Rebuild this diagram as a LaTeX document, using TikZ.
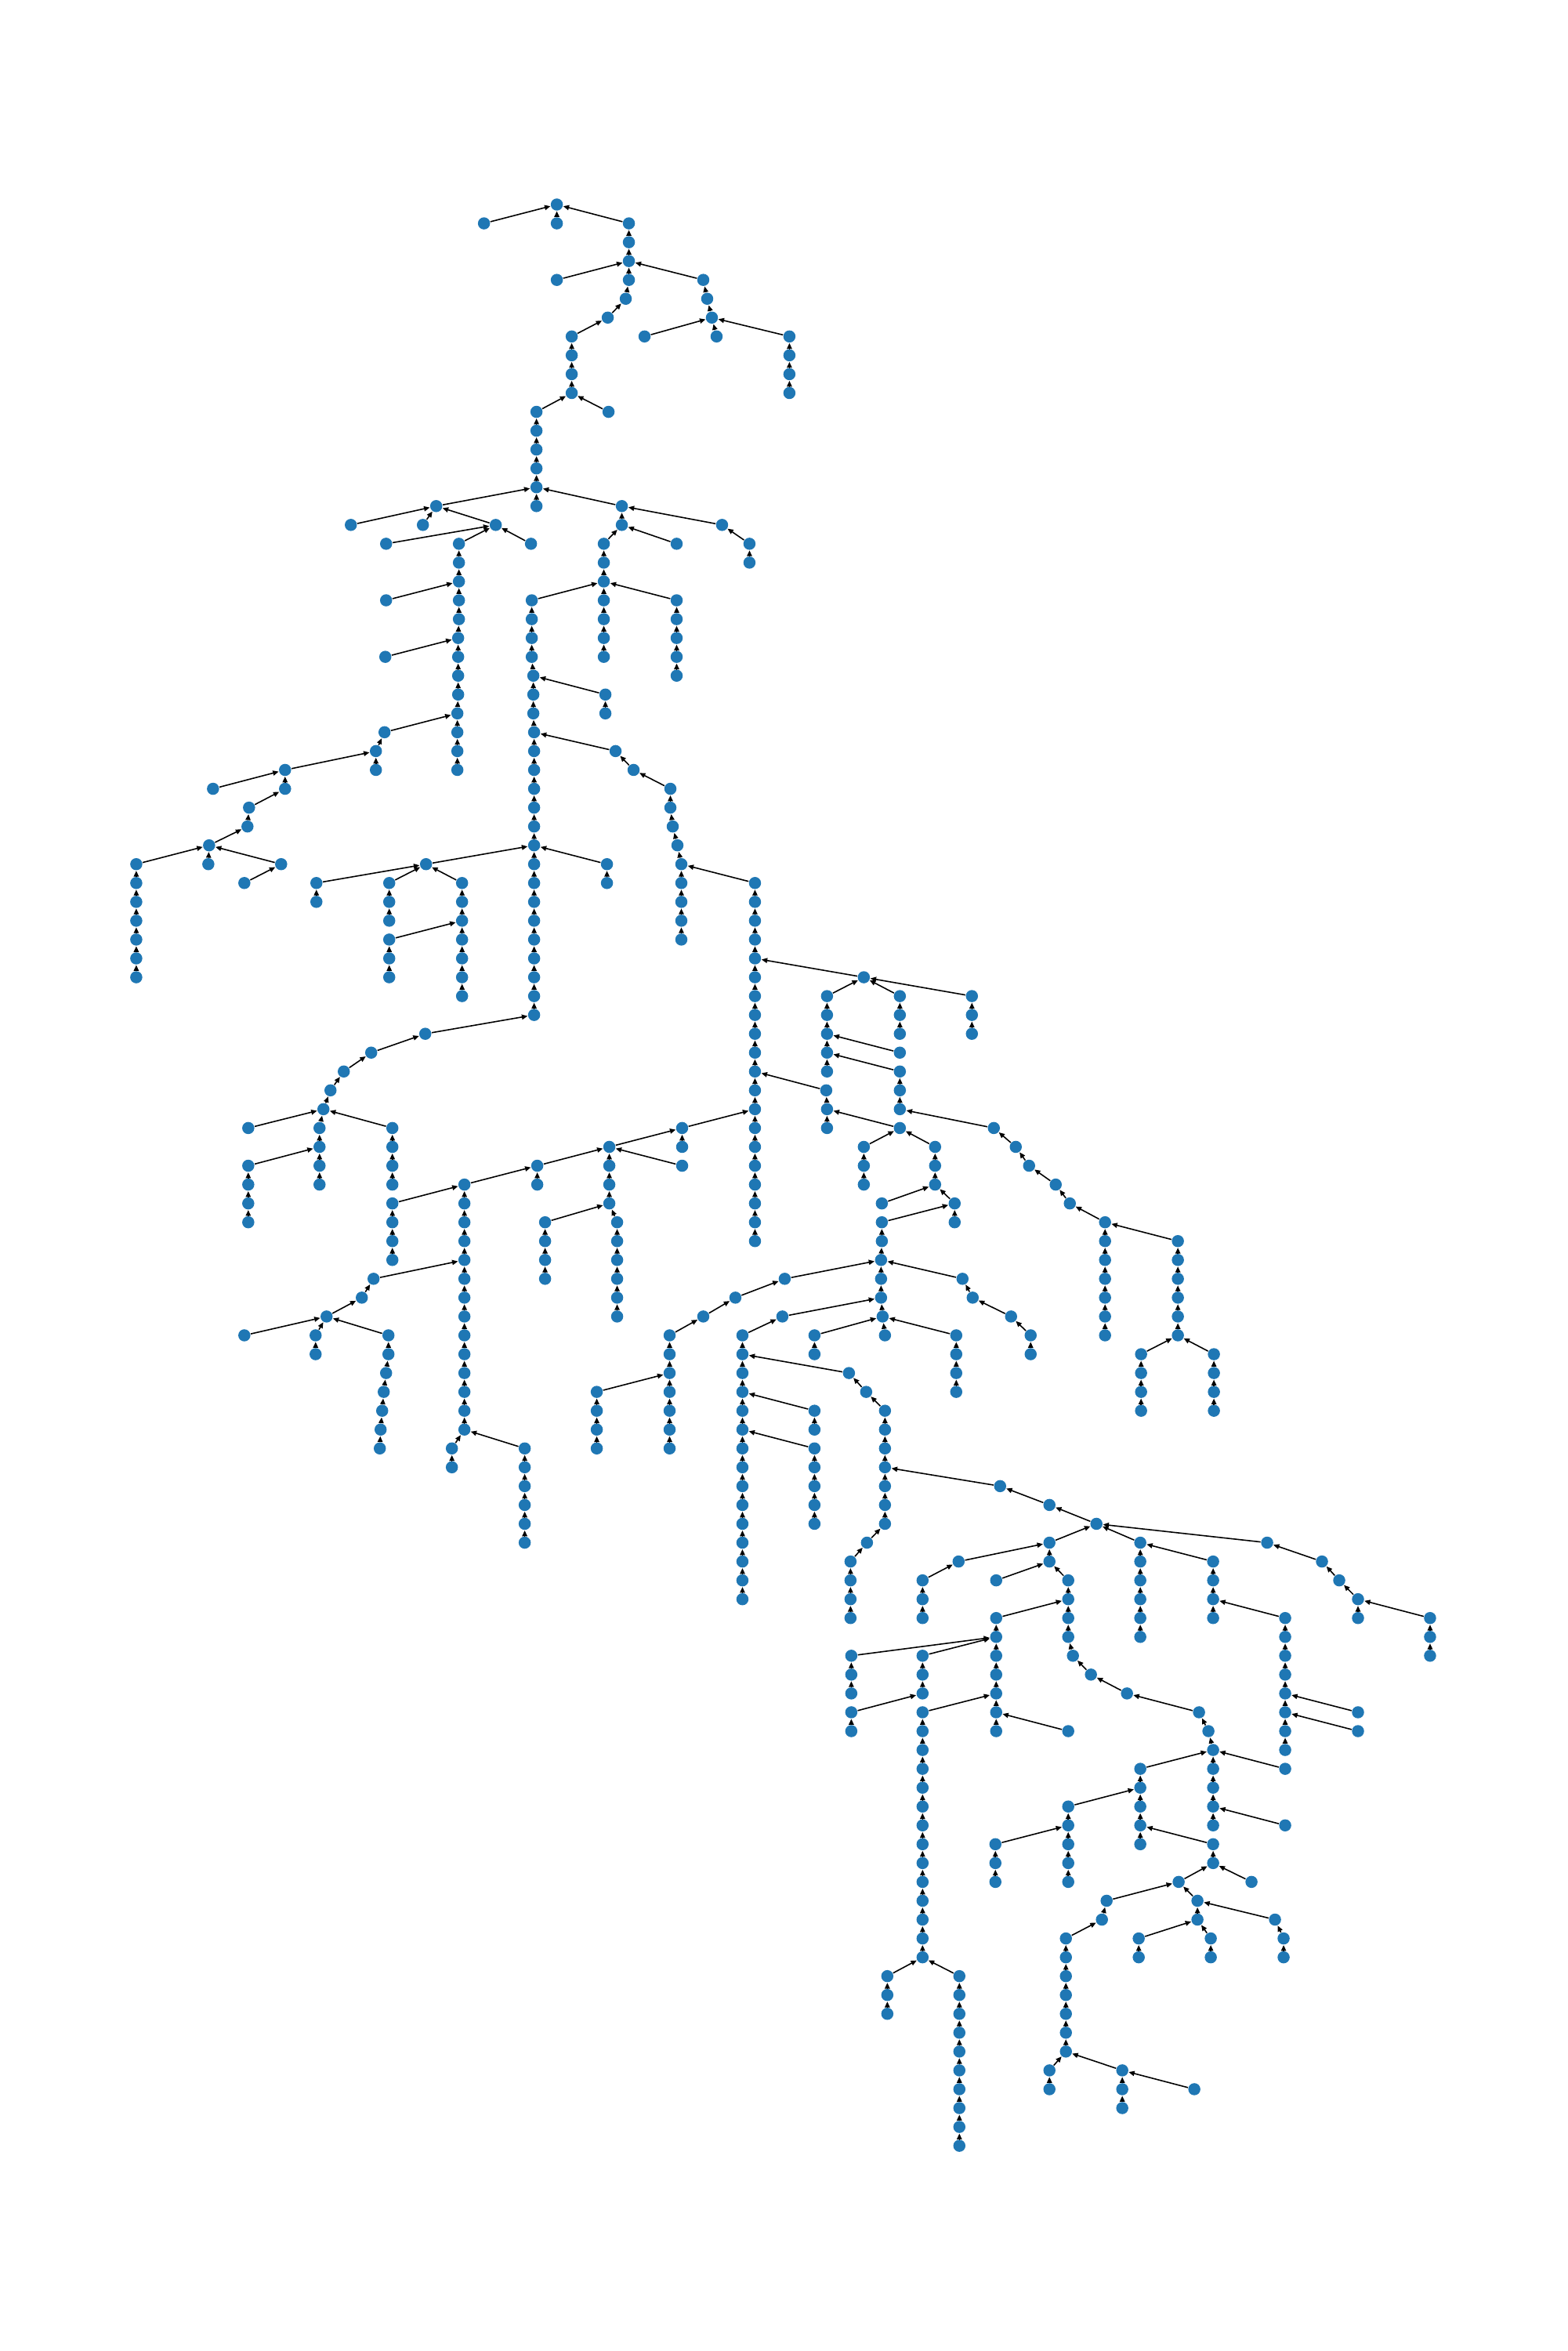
\documentclass[tikz,border=0pt]{standalone}
\usetikzlibrary{arrows.meta}
\tikzset{
  vtx/.style={circle, fill=r31g119b180, draw=none, inner sep=0pt, minimum size=0.155cm},
  edge/.style={-{Triangle[length=2.1pt,width=1.8pt]}, line width=0.45pt, black}
}
\begin{document}
\begin{tikzpicture}
\useasboundingbox (0,0) rectangle (20,-30);
% Changing color 31 119 180
\definecolor{r31g119b180}{rgb}{0.121569,0.466667,0.705882}%
\begin{scope}[x=0.01cm, y=-0.2405cm, shift={(0cm,-2.61cm)}]

% Drawing root and top branches
\node[vtx] (r) at (711,0) {};
\node[vtx] (r1a) at (618,1) {}; \draw[edge] (r1a) -- (r);
\node[vtx] (r1b) at (711,1) {}; \draw[edge] (r1b) -- (r);
\node[vtx] (c1) at (803,1) {}; \draw[edge] (c1) -- (r);
\node[vtx] (c2) at (803,2) {}; \draw[edge] (c2) -- (c1);
\node[vtx] (c3) at (803,3) {}; \draw[edge] (c3) -- (c2);
\node[vtx] (d4) at (711,4) {}; \draw[edge] (d4) -- (c3);
\node[vtx] (e4) at (803,4) {}; \draw[edge] (e4) -- (c3);
\node[vtx] (f4) at (898,4) {}; \draw[edge] (f4) -- (c3);
\node[vtx] (e5) at (799,5) {}; \draw[edge] (e5) -- (e4);
\node[vtx] (e6) at (776,6) {}; \draw[edge] (e6) -- (e5);
\node[vtx] (e7) at (730,7) {}; \draw[edge] (e7) -- (e6);
\node[vtx] (e8) at (730,8) {}; \draw[edge] (e8) -- (e7);
\node[vtx] (e9) at (730,9) {}; \draw[edge] (e9) -- (e8);
\node[vtx] (e10) at (730,10) {}; \draw[edge] (e10) -- (e9);
\node[vtx] (h11) at (777,11) {}; \draw[edge] (h11) -- (e10);
\node[vtx] (g11) at (685,11) {}; \draw[edge] (g11) -- (e10);
\node[vtx] (g12) at (685,12) {}; \draw[edge] (g12) -- (g11);
\node[vtx] (g13) at (685,13) {}; \draw[edge] (g13) -- (g12);
\node[vtx] (g14) at (685,14) {}; \draw[edge] (g14) -- (g13);
\node[vtx] (g15) at (685,15) {}; \draw[edge] (g15) -- (g14);
\node[vtx] (g16) at (685,16) {}; \draw[edge] (g16) -- (g15);
\node[vtx] (f5) at (903,5) {}; \draw[edge] (f5) -- (f4);
\node[vtx] (f6) at (909,6) {}; \draw[edge] (f6) -- (f5);
\node[vtx] (f7a) at (823,7) {}; \draw[edge] (f7a) -- (f6);
\node[vtx] (f7b) at (915,7) {}; \draw[edge] (f7b) -- (f6);
\node[vtx] (f7c) at (1008,7) {}; \draw[edge] (f7c) -- (f6);
\node[vtx] (f8) at (1008,8) {}; \draw[edge] (f8) -- (f7c);
\node[vtx] (f9) at (1008,9) {}; \draw[edge] (f9) -- (f8);
\node[vtx] (f10) at (1008,10) {}; \draw[edge] (f10) -- (f9);

% Drawing left branch of g15
\node[vtx] (p16) at (557,16) {}; \draw[edge] (p16) -- (g15);
\node[vtx] (p17a) at (448,17) {}; \draw[edge] (p17a) -- (p16);
\node[vtx] (p17b) at (540,17) {}; \draw[edge] (p17b) -- (p16);
\node[vtx] (p17c) at (633,17) {}; \draw[edge] (p17c) -- (p16);
\node[vtx] (p18a) at (678,18) {}; \draw[edge] (p18a) -- (p17c);
\node[vtx] (p18b) at (493,18) {}; \draw[edge] (p18b) -- (p17c);
\node[vtx] (s18) at (586,18) {}; \draw[edge] (s18) -- (p17c);
\node[vtx] (s19) at (586,19) {}; \draw[edge] (s19) -- (s18);
\node[vtx] (s20) at (586,20) {}; \draw[edge] (s20) -- (s19);
\node[vtx] (s21) at (586,21) {}; \draw[edge] (s21) -- (s20);
\node[vtx] (s22) at (586,22) {}; \draw[edge] (s22) -- (s21);
\node[vtx] (s23) at (585,23) {}; \draw[edge] (s23) -- (s22);
\node[vtx] (s24) at (585,24) {}; \draw[edge] (s24) -- (s23);
\node[vtx] (s25) at (585,25) {}; \draw[edge] (s25) -- (s24);
\node[vtx] (s26) at (585,26) {}; \draw[edge] (s26) -- (s25);
\node[vtx] (s27) at (584,27) {}; \draw[edge] (s27) -- (s26);
\node[vtx] (s28) at (584,28) {}; \draw[edge] (s28) -- (s27);
\node[vtx] (s29) at (584,29) {}; \draw[edge] (s29) -- (s28);
\node[vtx] (s30) at (584,30) {}; \draw[edge] (s30) -- (s29);
\node[vtx] (q21) at (493,21) {}; \draw[edge] (q21) -- (s20);
\node[vtx] (q24) at (492,24) {}; \draw[edge] (q24) -- (s23);
\node[vtx] (q28) at (491,28) {}; \draw[edge] (q28) -- (s27);
\node[vtx] (q29) at (480,29) {}; \draw[edge] (q29) -- (q28);
\node[vtx] (q30) at (480,30) {}; \draw[edge] (q30) -- (q29);
\node[vtx] (k30) at (364,30) {}; \draw[edge] (k30) -- (q29);
\node[vtx] (k31a) at (272,31) {}; \draw[edge] (k31a) -- (k30);
\node[vtx] (k31b) at (364,31) {}; \draw[edge] (k31b) -- (k30);
\node[vtx] (k32) at (318,32) {}; \draw[edge] (k32) -- (k31b);
\node[vtx] (k33) at (316,33) {}; \draw[edge] (k33) -- (k32);
\node[vtx] (k34) at (267,34) {}; \draw[edge] (k34) -- (k33);
\node[vtx] (m35) at (174,35) {}; \draw[edge] (m35) -- (k34);
\node[vtx] (k35a) at (266,35) {}; \draw[edge] (k35a) -- (k34);
\node[vtx] (k35b) at (359,35) {}; \draw[edge] (k35b) -- (k34);
\node[vtx] (k36) at (312,36) {}; \draw[edge] (k36) -- (k35b);
\node[vtx] (m36) at (174,36) {}; \draw[edge] (m36) -- (m35);
\node[vtx] (m37) at (174,37) {}; \draw[edge] (m37) -- (m36);
\node[vtx] (m38) at (174,38) {}; \draw[edge] (m38) -- (m37);
\node[vtx] (m39) at (174,39) {}; \draw[edge] (m39) -- (m38);
\node[vtx] (m40) at (174,40) {}; \draw[edge] (m40) -- (m39);
\node[vtx] (m41) at (174,41) {}; \draw[edge] (m41) -- (m40);

% Drawing right branch of g15
\node[vtx] (u16) at (794,16) {}; \draw[edge] (u16) -- (g15);
\node[vtx] (u17) at (794,17) {}; \draw[edge] (u17) -- (u16);
\node[vtx] (u17b) at (922,17) {}; \draw[edge] (u17b) -- (u16);
\node[vtx] (u18b) at (957,18) {}; \draw[edge] (u18b) -- (u17b);
\node[vtx] (u19b) at (957,19) {}; \draw[edge] (u19b) -- (u18b);
\node[vtx] (u18) at (864,18) {}; \draw[edge] (u18) -- (u17);
\node[vtx] (v18) at (771,18) {}; \draw[edge] (v18) -- (u17);
\node[vtx] (v19) at (771,19) {}; \draw[edge] (v19) -- (v18);
\node[vtx] (v20) at (771,20) {}; \draw[edge] (v20) -- (v19);
\node[vtx] (w21) at (864,21) {}; \draw[edge] (w21) -- (v20);
\node[vtx] (w22) at (864,22) {}; \draw[edge] (w22) -- (w21);
\node[vtx] (w23) at (864,23) {}; \draw[edge] (w23) -- (w22);
\node[vtx] (w24) at (864,24) {}; \draw[edge] (w24) -- (w23);
\node[vtx] (w25) at (864,25) {}; \draw[edge] (w25) -- (w24);
\node[vtx] (v21) at (771,21) {}; \draw[edge] (v21) -- (v20);
\node[vtx] (v22) at (771,22) {}; \draw[edge] (v22) -- (v21);
\node[vtx] (v23) at (771,23) {}; \draw[edge] (v23) -- (v22);
\node[vtx] (v24) at (771,24) {}; \draw[edge] (v24) -- (v23);

% Drawing long chain z
\node[vtx] (z21) at (679,21) {}; \draw[edge] (z21) -- (v20);
\node[vtx] (z22) at (679,22) {}; \draw[edge] (z22) -- (z21);
\node[vtx] (z23) at (679,23) {}; \draw[edge] (z23) -- (z22);
\node[vtx] (z24) at (679,24) {}; \draw[edge] (z24) -- (z23);
\node[vtx] (z25) at (681,25) {}; \draw[edge] (z25) -- (z24);
\node[vtx] (z26) at (681,26) {}; \draw[edge] (z26) -- (z25);
\node[vtx] (z27) at (681,27) {}; \draw[edge] (z27) -- (z26);
\node[vtx] (z28) at (682,28) {}; \draw[edge] (z28) -- (z27);
\node[vtx] (z29) at (682,29) {}; \draw[edge] (z29) -- (z28);
\node[vtx] (z30) at (682,30) {}; \draw[edge] (z30) -- (z29);
\node[vtx] (z31) at (682,31) {}; \draw[edge] (z31) -- (z30);
\node[vtx] (z32) at (682,32) {}; \draw[edge] (z32) -- (z31);
\node[vtx] (z33) at (682,33) {}; \draw[edge] (z33) -- (z32);
\node[vtx] (z34) at (682,34) {}; \draw[edge] (z34) -- (z33);
\node[vtx] (z35) at (682,35) {}; \draw[edge] (z35) -- (z34);
\node[vtx] (z36) at (682,36) {}; \draw[edge] (z36) -- (z35);
\node[vtx] (z37) at (682,37) {}; \draw[edge] (z37) -- (z36);
\node[vtx] (z38) at (682,38) {}; \draw[edge] (z38) -- (z37);
\node[vtx] (z39) at (682,39) {}; \draw[edge] (z39) -- (z38);
\node[vtx] (z40) at (682,40) {}; \draw[edge] (z40) -- (z39);
\node[vtx] (z41) at (682,41) {}; \draw[edge] (z41) -- (z40);
\node[vtx] (z42) at (682,42) {}; \draw[edge] (z42) -- (z41);
\node[vtx] (z43) at (682,43) {}; \draw[edge] (z43) -- (z42);
\node[vtx] (y26) at (773,26) {}; \draw[edge] (y26) -- (z25);
\node[vtx] (y27) at (773,27) {}; \draw[edge] (y27) -- (y26);
\node[vtx] (o29) at (786,29) {}; \draw[edge] (o29) -- (z28);
\node[vtx] (o30) at (809,30) {}; \draw[edge] (o30) -- (o29);
\node[vtx] (o31) at (856,31) {}; \draw[edge] (o31) -- (o30);
\node[vtx] (o32) at (856,32) {}; \draw[edge] (o32) -- (o31);
\node[vtx] (o33) at (859,33) {}; \draw[edge] (o33) -- (o32);
\node[vtx] (o34) at (865,34) {}; \draw[edge] (o34) -- (o33);
\node[vtx] (o35) at (870,35) {}; \draw[edge] (o35) -- (o34);
\node[vtx] (o36) at (870,36) {}; \draw[edge] (o36) -- (o35);
\node[vtx] (o37) at (870,37) {}; \draw[edge] (o37) -- (o36);
\node[vtx] (o38) at (870,38) {}; \draw[edge] (o38) -- (o37);
\node[vtx] (o39) at (870,39) {}; \draw[edge] (o39) -- (o38);
\node[vtx] (y35) at (775,35) {}; \draw[edge] (y35) -- (z34);
\node[vtx] (y36) at (775,36) {}; \draw[edge] (y36) -- (y35);
\node[vtx] (a35) at (544,35) {}; \draw[edge] (a35) -- (z34);
\node[vtx] (a36a) at (404,36) {}; \draw[edge] (a36a) -- (a35);
\node[vtx] (a37a) at (404,37) {}; \draw[edge] (a37a) -- (a36a);
\node[vtx] (a36b) at (497,36) {}; \draw[edge] (a36b) -- (a35);
\node[vtx] (a37b) at (497,37) {}; \draw[edge] (a37b) -- (a36b);
\node[vtx] (a38b) at (497,38) {}; \draw[edge] (a38b) -- (a37b);
\node[vtx] (a36c) at (590,36) {}; \draw[edge] (a36c) -- (a35);
\node[vtx] (a37c) at (590,37) {}; \draw[edge] (a37c) -- (a36c);
\node[vtx] (a38c) at (590,38) {}; \draw[edge] (a38c) -- (a37c);
\node[vtx] (a39c) at (590,39) {}; \draw[edge] (a39c) -- (a38c);
\node[vtx] (a40c) at (590,40) {}; \draw[edge] (a40c) -- (a39c);
\node[vtx] (a41c) at (590,41) {}; \draw[edge] (a41c) -- (a40c);
\node[vtx] (a42c) at (590,42) {}; \draw[edge] (a42c) -- (a41c);
\node[vtx] (a39) at (497,39) {}; \draw[edge] (a39) -- (a38c);
\node[vtx] (a40) at (497,40) {}; \draw[edge] (a40) -- (a39);
\node[vtx] (a41) at (497,41) {}; \draw[edge] (a41) -- (a40);

% Drawing chain b
\node[vtx] (b36) at (964,36) {}; \draw[edge] (b36) -- (o35);
\node[vtx] (b37) at (964,37) {}; \draw[edge] (b37) -- (b36);
\node[vtx] (b38) at (964,38) {}; \draw[edge] (b38) -- (b37);
\node[vtx] (b39) at (964,39) {}; \draw[edge] (b39) -- (b38);
\node[vtx] (b40) at (964,40) {}; \draw[edge] (b40) -- (b39);
\node[vtx] (b41) at (964,41) {}; \draw[edge] (b41) -- (b40);
\node[vtx] (b42) at (964,42) {}; \draw[edge] (b42) -- (b41);
\node[vtx] (b43) at (964,43) {}; \draw[edge] (b43) -- (b42);
\node[vtx] (b44) at (964,44) {}; \draw[edge] (b44) -- (b43);
\node[vtx] (b45) at (964,45) {}; \draw[edge] (b45) -- (b44);
\node[vtx] (b46) at (964,46) {}; \draw[edge] (b46) -- (b45);
\node[vtx] (b47) at (964,47) {}; \draw[edge] (b47) -- (b46);
\node[vtx] (b48) at (964,48) {}; \draw[edge] (b48) -- (b47);
\node[vtx] (b49) at (964,49) {}; \draw[edge] (b49) -- (b48);
\node[vtx] (b50) at (964,50) {}; \draw[edge] (b50) -- (b49);
\node[vtx] (b51) at (964,51) {}; \draw[edge] (b51) -- (b50);
\node[vtx] (b52) at (964,52) {}; \draw[edge] (b52) -- (b51);
\node[vtx] (b53) at (964,53) {}; \draw[edge] (b53) -- (b52);
\node[vtx] (b54) at (964,54) {}; \draw[edge] (b54) -- (b53);
\node[vtx] (b55) at (964,55) {}; \draw[edge] (b55) -- (b54);

% Drawing branch below z43
\node[vtx] (l44) at (543,44) {}; \draw[edge] (l44) -- (z43);
\node[vtx] (l45) at (474,45) {}; \draw[edge] (l45) -- (l44);
\node[vtx] (l46) at (439,46) {}; \draw[edge] (l46) -- (l45);
\node[vtx] (l47) at (422,47) {}; \draw[edge] (l47) -- (l46);
\node[vtx] (l48) at (413,48) {}; \draw[edge] (l48) -- (l47);
\node[vtx] (i49) at (317,49) {}; \draw[edge] (i49) -- (l48);
\node[vtx] (jj49) at (408,49) {}; \draw[edge] (jj49) -- (l48);
\node[vtx] (jj50) at (408,50) {}; \draw[edge] (jj50) -- (jj49);
\node[vtx] (jj51) at (408,51) {}; \draw[edge] (jj51) -- (jj50);
\node[vtx] (jj52) at (408,52) {}; \draw[edge] (jj52) -- (jj51);
\node[vtx] (i51) at (317,51) {}; \draw[edge] (i51) -- (jj50);
\node[vtx] (i52) at (317,52) {}; \draw[edge] (i52) -- (i51);
\node[vtx] (i53) at (317,53) {}; \draw[edge] (i53) -- (i52);
\node[vtx] (i54) at (317,54) {}; \draw[edge] (i54) -- (i53);
\node[vtx] (h49) at (501,49) {}; \draw[edge] (h49) -- (l48);
\node[vtx] (h50) at (501,50) {}; \draw[edge] (h50) -- (h49);
\node[vtx] (h51) at (501,51) {}; \draw[edge] (h51) -- (h50);
\node[vtx] (h52) at (501,52) {}; \draw[edge] (h52) -- (h51);

% Drawing hub K41
\node[vtx] (K41) at (1103,41) {}; \draw[edge] (K41) -- (b40);
\node[vtx] (Ka42) at (1056,42) {}; \draw[edge] (Ka42) -- (K41);
\node[vtx] (Ka43) at (1056,43) {}; \draw[edge] (Ka43) -- (Ka42);
\node[vtx] (Ka44) at (1056,44) {}; \draw[edge] (Ka44) -- (Ka43);
\node[vtx] (Ka45) at (1056,45) {}; \draw[edge] (Ka45) -- (Ka44);
\node[vtx] (Ka46) at (1056,46) {}; \draw[edge] (Ka46) -- (Ka45);
\node[vtx] (Kb42) at (1149,42) {}; \draw[edge] (Kb42) -- (K41);
\node[vtx] (Kb43) at (1149,43) {}; \draw[edge] (Kb43) -- (Kb42);
\node[vtx] (Kb44) at (1149,44) {}; \draw[edge] (Kb44) -- (Kb43);
\node[vtx] (Kc42) at (1241,42) {}; \draw[edge] (Kc42) -- (K41);
\node[vtx] (Kc43) at (1241,43) {}; \draw[edge] (Kc43) -- (Kc42);
\node[vtx] (Kc44) at (1241,44) {}; \draw[edge] (Kc44) -- (Kc43);
\node[vtx] (Kd45) at (1149,45) {}; \draw[edge] (Kd45) -- (Ka44);
\node[vtx] (Kd46) at (1149,46) {}; \draw[edge] (Kd46) -- (Ka45);
\node[vtx] (Kd47) at (1149,47) {}; \draw[edge] (Kd47) -- (Kd46);
\node[vtx] (Kd48) at (1149,48) {}; \draw[edge] (Kd48) -- (Kd47);
\node[vtx] (J47) at (1055,47) {}; \draw[edge] (J47) -- (b46);
\node[vtx] (J48) at (1056,48) {}; \draw[edge] (J48) -- (J47);
\node[vtx] (J49) at (1056,49) {}; \draw[edge] (J49) -- (J48);
\node[vtx] (Jb49) at (1149,49) {}; \draw[edge] (Jb49) -- (J48);
\node[vtx] (Jc50) at (1103,50) {}; \draw[edge] (Jc50) -- (Jb49);
\node[vtx] (Jc51) at (1103,51) {}; \draw[edge] (Jc51) -- (Jc50);
\node[vtx] (Jc52) at (1103,52) {}; \draw[edge] (Jc52) -- (Jc51);
\node[vtx] (Jd50) at (1194,50) {}; \draw[edge] (Jd50) -- (Jb49);
\node[vtx] (Jd51) at (1194,51) {}; \draw[edge] (Jd51) -- (Jd50);
\node[vtx] (Jd52) at (1194,52) {}; \draw[edge] (Jd52) -- (Jd51);
\node[vtx] (Je53) at (1126,53) {}; \draw[edge] (Je53) -- (Jd52);
\node[vtx] (Jf53) at (1219,53) {}; \draw[edge] (Jf53) -- (Jd52);
\node[vtx] (Jf54) at (1219,54) {}; \draw[edge] (Jf54) -- (Jf53);
\node[vtx] (Q54) at (1126,54) {}; \draw[edge] (Q54) -- (Jf53);
\node[vtx] (Q55) at (1126,55) {}; \draw[edge] (Q55) -- (Q54);
\node[vtx] (Q56) at (1125,56) {}; \draw[edge] (Q56) -- (Q55);
\node[vtx] (R49) at (1269,49) {}; \draw[edge] (R49) -- (Kd48);
\node[vtx] (R50) at (1297,50) {}; \draw[edge] (R50) -- (R49);
\node[vtx] (R51) at (1314,51) {}; \draw[edge] (R51) -- (R50);
\node[vtx] (R52) at (1348,52) {}; \draw[edge] (R52) -- (R51);
\node[vtx] (R53) at (1366,53) {}; \draw[edge] (R53) -- (R52);
\node[vtx] (R54) at (1411,54) {}; \draw[edge] (R54) -- (R53);
\node[vtx] (R55) at (1411,55) {}; \draw[edge] (R55) -- (R54);
\node[vtx] (R56) at (1411,56) {}; \draw[edge] (R56) -- (R55);
\node[vtx] (R57) at (1411,57) {}; \draw[edge] (R57) -- (R56);
\node[vtx] (R58) at (1411,58) {}; \draw[edge] (R58) -- (R57);
\node[vtx] (R59) at (1411,59) {}; \draw[edge] (R59) -- (R58);
\node[vtx] (R60) at (1411,60) {}; \draw[edge] (R60) -- (R59);
\node[vtx] (T55) at (1504,55) {}; \draw[edge] (T55) -- (R54);
\node[vtx] (T56) at (1504,56) {}; \draw[edge] (T56) -- (T55);
\node[vtx] (T57) at (1504,57) {}; \draw[edge] (T57) -- (T56);
\node[vtx] (T58) at (1504,58) {}; \draw[edge] (T58) -- (T57);
\node[vtx] (T59) at (1504,59) {}; \draw[edge] (T59) -- (T58);
\node[vtx] (T60) at (1504,60) {}; \draw[edge] (T60) -- (T59);
\node[vtx] (Ta61) at (1457,61) {}; \draw[edge] (Ta61) -- (T60);
\node[vtx] (Ta62) at (1457,62) {}; \draw[edge] (Ta62) -- (Ta61);
\node[vtx] (Ta63) at (1457,63) {}; \draw[edge] (Ta63) -- (Ta62);
\node[vtx] (Ta64) at (1457,64) {}; \draw[edge] (Ta64) -- (Ta63);
\node[vtx] (Tb61) at (1550,61) {}; \draw[edge] (Tb61) -- (T60);
\node[vtx] (Tb62) at (1550,62) {}; \draw[edge] (Tb62) -- (Tb61);
\node[vtx] (Tb63) at (1550,63) {}; \draw[edge] (Tb63) -- (Tb62);
\node[vtx] (Tb64) at (1550,64) {}; \draw[edge] (Tb64) -- (Tb63);

% Drawing branch of b48
\node[vtx] (n49) at (871,49) {}; \draw[edge] (n49) -- (b48);
\node[vtx] (n50) at (871,50) {}; \draw[edge] (n50) -- (n49);
\node[vtx] (c50) at (778,50) {}; \draw[edge] (c50) -- (n49);
\node[vtx] (n51) at (871,51) {}; \draw[edge] (n51) -- (c50);
\node[vtx] (t51) at (686,51) {}; \draw[edge] (t51) -- (c50);
\node[vtx] (t52) at (686,52) {}; \draw[edge] (t52) -- (t51);
\node[vtx] (c51) at (778,51) {}; \draw[edge] (c51) -- (c50);
\node[vtx] (c52) at (778,52) {}; \draw[edge] (c52) -- (c51);
\node[vtx] (c53) at (778,53) {}; \draw[edge] (c53) -- (c52);
\node[vtx] (cl54) at (696,54) {}; \draw[edge] (cl54) -- (c53);
\node[vtx] (cl55) at (696,55) {}; \draw[edge] (cl55) -- (cl54);
\node[vtx] (cl56) at (696,56) {}; \draw[edge] (cl56) -- (cl55);
\node[vtx] (cl57) at (696,57) {}; \draw[edge] (cl57) -- (cl56);
\node[vtx] (cr54) at (788,54) {}; \draw[edge] (cr54) -- (c53);
\node[vtx] (cr55) at (788,55) {}; \draw[edge] (cr55) -- (cr54);
\node[vtx] (cr56) at (788,56) {}; \draw[edge] (cr56) -- (cr55);
\node[vtx] (cr57) at (788,57) {}; \draw[edge] (cr57) -- (cr56);
\node[vtx] (cr58) at (788,58) {}; \draw[edge] (cr58) -- (cr57);
\node[vtx] (cr59) at (788,59) {}; \draw[edge] (cr59) -- (cr58);

% Drawing chain M
\node[vtx] (M52) at (593,52) {}; \draw[edge] (M52) -- (t51);
\node[vtx] (M53) at (593,53) {}; \draw[edge] (M53) -- (M52);
\node[vtx] (M54) at (593,54) {}; \draw[edge] (M54) -- (M53);
\node[vtx] (M55) at (593,55) {}; \draw[edge] (M55) -- (M54);
\node[vtx] (M56) at (593,56) {}; \draw[edge] (M56) -- (M55);
\node[vtx] (M57) at (593,57) {}; \draw[edge] (M57) -- (M56);
\node[vtx] (M58) at (593,58) {}; \draw[edge] (M58) -- (M57);
\node[vtx] (M59) at (593,59) {}; \draw[edge] (M59) -- (M58);
\node[vtx] (M60) at (593,60) {}; \draw[edge] (M60) -- (M59);
\node[vtx] (M61) at (593,61) {}; \draw[edge] (M61) -- (M60);
\node[vtx] (M62) at (593,62) {}; \draw[edge] (M62) -- (M61);
\node[vtx] (M63) at (593,63) {}; \draw[edge] (M63) -- (M62);
\node[vtx] (M64) at (593,64) {}; \draw[edge] (M64) -- (M63);
\node[vtx] (M65) at (593,65) {}; \draw[edge] (M65) -- (M64);
\node[vtx] (hh53) at (501,53) {}; \draw[edge] (hh53) -- (M52);
\node[vtx] (hh54) at (501,54) {}; \draw[edge] (hh54) -- (hh53);
\node[vtx] (hh55) at (501,55) {}; \draw[edge] (hh55) -- (hh54);
\node[vtx] (hh56) at (501,56) {}; \draw[edge] (hh56) -- (hh55);
\node[vtx] (x57) at (477,57) {}; \draw[edge] (x57) -- (M56);
\node[vtx] (x58) at (462,58) {}; \draw[edge] (x58) -- (x57);
\node[vtx] (x59) at (417,59) {}; \draw[edge] (x59) -- (x58);
\node[vtx] (x60a) at (312,60) {}; \draw[edge] (x60a) -- (x59);
\node[vtx] (x60b) at (403,60) {}; \draw[edge] (x60b) -- (x59);
\node[vtx] (x61b) at (403,61) {}; \draw[edge] (x61b) -- (x60b);
\node[vtx] (x60c) at (496,60) {}; \draw[edge] (x60c) -- (x59);
\node[vtx] (x61c) at (496,61) {}; \draw[edge] (x61c) -- (x60c);
\node[vtx] (x62c) at (493,62) {}; \draw[edge] (x62c) -- (x61c);
\node[vtx] (x63c) at (490,63) {}; \draw[edge] (x63c) -- (x62c);
\node[vtx] (x64c) at (488,64) {}; \draw[edge] (x64c) -- (x63c);
\node[vtx] (x65c) at (486,65) {}; \draw[edge] (x65c) -- (x64c);
\node[vtx] (x66c) at (485,66) {}; \draw[edge] (x66c) -- (x65c);
\node[vtx] (rr66) at (577,66) {}; \draw[edge] (rr66) -- (M65);
\node[vtx] (rr67) at (577,67) {}; \draw[edge] (rr67) -- (rr66);
\node[vtx] (ss66) at (670,66) {}; \draw[edge] (ss66) -- (M65);
\node[vtx] (ss67) at (670,67) {}; \draw[edge] (ss67) -- (ss66);
\node[vtx] (ss68) at (670,68) {}; \draw[edge] (ss68) -- (ss67);
\node[vtx] (ss69) at (670,69) {}; \draw[edge] (ss69) -- (ss68);
\node[vtx] (ss70) at (670,70) {}; \draw[edge] (ss70) -- (ss69);
\node[vtx] (ss71) at (670,71) {}; \draw[edge] (ss71) -- (ss70);

% Drawing hub Q56
\node[vtx] (A57) at (1002,57) {}; \draw[edge] (A57) -- (Q56);
\node[vtx] (A58) at (939,58) {}; \draw[edge] (A58) -- (A57);
\node[vtx] (A59) at (898,59) {}; \draw[edge] (A59) -- (A58);
\node[vtx] (A60) at (855,60) {}; \draw[edge] (A60) -- (A59);
\node[vtx] (A61) at (855,61) {}; \draw[edge] (A61) -- (A60);
\node[vtx] (A62) at (855,62) {}; \draw[edge] (A62) -- (A61);
\node[vtx] (A63) at (855,63) {}; \draw[edge] (A63) -- (A62);
\node[vtx] (A64) at (855,64) {}; \draw[edge] (A64) -- (A63);
\node[vtx] (A65) at (855,65) {}; \draw[edge] (A65) -- (A64);
\node[vtx] (A66) at (855,66) {}; \draw[edge] (A66) -- (A65);
\node[vtx] (Aa63) at (762,63) {}; \draw[edge] (Aa63) -- (A62);
\node[vtx] (Aa64) at (762,64) {}; \draw[edge] (Aa64) -- (Aa63);
\node[vtx] (Aa65) at (762,65) {}; \draw[edge] (Aa65) -- (Aa64);
\node[vtx] (Aa66) at (762,66) {}; \draw[edge] (Aa66) -- (Aa65);
\node[vtx] (B57) at (1125,57) {}; \draw[edge] (B57) -- (Q56);
\node[vtx] (B58) at (1125,58) {}; \draw[edge] (B58) -- (B57);
\node[vtx] (C59) at (999,59) {}; \draw[edge] (C59) -- (B58);
\node[vtx] (C60) at (948,60) {}; \draw[edge] (C60) -- (C59);
\node[vtx] (C61) at (948,61) {}; \draw[edge] (C61) -- (C60);
\node[vtx] (C62) at (948,62) {}; \draw[edge] (C62) -- (C61);
\node[vtx] (C63) at (948,63) {}; \draw[edge] (C63) -- (C62);
\node[vtx] (C64) at (948,64) {}; \draw[edge] (C64) -- (C63);
\node[vtx] (C65) at (948,65) {}; \draw[edge] (C65) -- (C64);
\node[vtx] (C66) at (948,66) {}; \draw[edge] (C66) -- (C65);
\node[vtx] (C67) at (948,67) {}; \draw[edge] (C67) -- (C66);
\node[vtx] (C68) at (948,68) {}; \draw[edge] (C68) -- (C67);
\node[vtx] (C69) at (948,69) {}; \draw[edge] (C69) -- (C68);
\node[vtx] (C70) at (948,70) {}; \draw[edge] (C70) -- (C69);
\node[vtx] (C71) at (948,71) {}; \draw[edge] (C71) -- (C70);
\node[vtx] (C72) at (948,72) {}; \draw[edge] (C72) -- (C71);
\node[vtx] (C73) at (948,73) {}; \draw[edge] (C73) -- (C72);
\node[vtx] (C74) at (948,74) {}; \draw[edge] (C74) -- (C73);
\node[vtx] (D59) at (1127,59) {}; \draw[edge] (D59) -- (B58);
\node[vtx] (D60a) at (1040,60) {}; \draw[edge] (D60a) -- (D59);
\node[vtx] (D61a) at (1040,61) {}; \draw[edge] (D61a) -- (D60a);
\node[vtx] (D60b) at (1130,60) {}; \draw[edge] (D60b) -- (D59);
\node[vtx] (D60c) at (1221,60) {}; \draw[edge] (D60c) -- (D59);
\node[vtx] (D61c) at (1221,61) {}; \draw[edge] (D61c) -- (D60c);
\node[vtx] (D62c) at (1221,62) {}; \draw[edge] (D62c) -- (D61c);
\node[vtx] (D63c) at (1221,63) {}; \draw[edge] (D63c) -- (D62c);
\node[vtx] (E62) at (1084,62) {}; \draw[edge] (E62) -- (C61);
\node[vtx] (E63) at (1106,63) {}; \draw[edge] (E63) -- (E62);
\node[vtx] (E64) at (1130,64) {}; \draw[edge] (E64) -- (E63);
\node[vtx] (E65) at (1130,65) {}; \draw[edge] (E65) -- (E64);
\node[vtx] (E66) at (1130,66) {}; \draw[edge] (E66) -- (E65);
\node[vtx] (E67) at (1130,67) {}; \draw[edge] (E67) -- (E66);
\node[vtx] (E68) at (1130,68) {}; \draw[edge] (E68) -- (E67);
\node[vtx] (E69) at (1130,69) {}; \draw[edge] (E69) -- (E68);
\node[vtx] (E70) at (1130,70) {}; \draw[edge] (E70) -- (E69);
\node[vtx] (F64) at (1040,64) {}; \draw[edge] (F64) -- (C63);
\node[vtx] (F65) at (1040,65) {}; \draw[edge] (F65) -- (F64);
\node[vtx] (G66) at (1040,66) {}; \draw[edge] (G66) -- (C65);
\node[vtx] (G67) at (1040,67) {}; \draw[edge] (G67) -- (G66);
\node[vtx] (G68) at (1040,68) {}; \draw[edge] (G68) -- (G67);
\node[vtx] (G69) at (1040,69) {}; \draw[edge] (G69) -- (G68);
\node[vtx] (G70) at (1040,70) {}; \draw[edge] (G70) -- (G69);
\node[vtx] (H68) at (1277,68) {}; \draw[edge] (H68) -- (E67);
\node[vtx] (H69) at (1340,69) {}; \draw[edge] (H69) -- (H68);
\node[vtx] (H70) at (1400,70) {}; \draw[edge] (H70) -- (H69);
\node[vtx] (I71) at (1107,71) {}; \draw[edge] (I71) -- (E70);
\node[vtx] (I72) at (1086,72) {}; \draw[edge] (I72) -- (I71);
\node[vtx] (I73) at (1086,73) {}; \draw[edge] (I73) -- (I72);
\node[vtx] (I74) at (1086,74) {}; \draw[edge] (I74) -- (I73);
\node[vtx] (I75) at (1086,75) {}; \draw[edge] (I75) -- (I74);
\node[vtx] (L57) at (1229,57) {}; \draw[edge] (L57) -- (Q56);
\node[vtx] (L58) at (1242,58) {}; \draw[edge] (L58) -- (L57);
\node[vtx] (L59) at (1291,59) {}; \draw[edge] (L59) -- (L58);
\node[vtx] (L60) at (1316,60) {}; \draw[edge] (L60) -- (L59);
\node[vtx] (L61) at (1316,61) {}; \draw[edge] (L61) -- (L60);

% Drawing hub H70
\node[vtx] (N71) at (1340,71) {}; \draw[edge] (N71) -- (H70);
\node[vtx] (N72a) at (1224,72) {}; \draw[edge] (N72a) -- (N71);
\node[vtx] (N73a) at (1178,73) {}; \draw[edge] (N73a) -- (N72a);
\node[vtx] (N74a) at (1178,74) {}; \draw[edge] (N74a) -- (N73a);
\node[vtx] (N75a) at (1178,75) {}; \draw[edge] (N75a) -- (N74a);
\node[vtx] (N72) at (1340,72) {}; \draw[edge] (N72) -- (N71);
\node[vtx] (N73b) at (1272,73) {}; \draw[edge] (N73b) -- (N72);
\node[vtx] (N73c) at (1364,73) {}; \draw[edge] (N73c) -- (N72);
\node[vtx] (N74c) at (1364,74) {}; \draw[edge] (N74c) -- (N73c);
\node[vtx] (N75c) at (1364,75) {}; \draw[edge] (N75c) -- (N74c);
\node[vtx] (N76c) at (1364,76) {}; \draw[edge] (N76c) -- (N75c);
\node[vtx] (N75d) at (1272,75) {}; \draw[edge] (N75d) -- (N74c);
\node[vtx] (N76d) at (1272,76) {}; \draw[edge] (N76d) -- (N75d);
\node[vtx] (O77) at (1087,77) {}; \draw[edge] (O77) -- (N76d);
\node[vtx] (O78) at (1087,78) {}; \draw[edge] (O78) -- (O77);
\node[vtx] (O79) at (1087,79) {}; \draw[edge] (O79) -- (O78);
\node[vtx] (Pa77) at (1178,77) {}; \draw[edge] (Pa77) -- (N76d);
\node[vtx] (Pa78) at (1178,78) {}; \draw[edge] (Pa78) -- (Pa77);
\node[vtx] (Pa79) at (1178,79) {}; \draw[edge] (Pa79) -- (Pa78);
\node[vtx] (O80) at (1087,80) {}; \draw[edge] (O80) -- (Pa79);
\node[vtx] (O81) at (1087,81) {}; \draw[edge] (O81) -- (O80);
\node[vtx] (Pc77) at (1272,77) {}; \draw[edge] (Pc77) -- (N76d);
\node[vtx] (Pc78) at (1272,78) {}; \draw[edge] (Pc78) -- (Pc77);
\node[vtx] (Pc79) at (1272,79) {}; \draw[edge] (Pc79) -- (Pc78);
\node[vtx] (Pc80) at (1272,80) {}; \draw[edge] (Pc80) -- (Pc79);
\node[vtx] (Pc81) at (1272,81) {}; \draw[edge] (Pc81) -- (Pc80);
\node[vtx] (Pf81) at (1364,81) {}; \draw[edge] (Pf81) -- (Pc80);
\node[vtx] (Pb80) at (1178,80) {}; \draw[edge] (Pb80) -- (Pc79);
\node[vtx] (Pb81) at (1178,81) {}; \draw[edge] (Pb81) -- (Pb80);
\node[vtx] (Pb82) at (1178,82) {}; \draw[edge] (Pb82) -- (Pb81);
\node[vtx] (Pb83) at (1178,83) {}; \draw[edge] (Pb83) -- (Pb82);
\node[vtx] (Pb84) at (1178,84) {}; \draw[edge] (Pb84) -- (Pb83);
\node[vtx] (Pb85) at (1178,85) {}; \draw[edge] (Pb85) -- (Pb84);
\node[vtx] (Pb86) at (1178,86) {}; \draw[edge] (Pb86) -- (Pb85);
\node[vtx] (Pb87) at (1178,87) {}; \draw[edge] (Pb87) -- (Pb86);
\node[vtx] (Pb88) at (1178,88) {}; \draw[edge] (Pb88) -- (Pb87);
\node[vtx] (Pb89) at (1178,89) {}; \draw[edge] (Pb89) -- (Pb88);
\node[vtx] (Pb90) at (1178,90) {}; \draw[edge] (Pb90) -- (Pb89);
\node[vtx] (Pb91) at (1178,91) {}; \draw[edge] (Pb91) -- (Pb90);
\node[vtx] (Pb92) at (1178,92) {}; \draw[edge] (Pb92) -- (Pb91);
\node[vtx] (Pb93) at (1178,93) {}; \draw[edge] (Pb93) -- (Pb92);
\node[vtx] (Pd94) at (1133,94) {}; \draw[edge] (Pd94) -- (Pb93);
\node[vtx] (Pd95) at (1133,95) {}; \draw[edge] (Pd95) -- (Pd94);
\node[vtx] (Pd96) at (1133,96) {}; \draw[edge] (Pd96) -- (Pd95);
\node[vtx] (Pe94) at (1225,94) {}; \draw[edge] (Pe94) -- (Pb93);
\node[vtx] (Pe95) at (1225,95) {}; \draw[edge] (Pe95) -- (Pe94);
\node[vtx] (Pe96) at (1225,96) {}; \draw[edge] (Pe96) -- (Pe95);
\node[vtx] (Pe97) at (1225,97) {}; \draw[edge] (Pe97) -- (Pe96);
\node[vtx] (Pe98) at (1225,98) {}; \draw[edge] (Pe98) -- (Pe97);
\node[vtx] (Pe99) at (1225,99) {}; \draw[edge] (Pe99) -- (Pe98);
\node[vtx] (Pe100) at (1225,100) {}; \draw[edge] (Pe100) -- (Pe99);
\node[vtx] (Pe101) at (1225,101) {}; \draw[edge] (Pe101) -- (Pe100);
\node[vtx] (Pe102) at (1225,102) {}; \draw[edge] (Pe102) -- (Pe101);
\node[vtx] (Pe103) at (1225,103) {}; \draw[edge] (Pe103) -- (Pe102);
\node[vtx] (S77) at (1370,77) {}; \draw[edge] (S77) -- (N76c);
\node[vtx] (S78) at (1393,78) {}; \draw[edge] (S78) -- (S77);
\node[vtx] (S79) at (1439,79) {}; \draw[edge] (S79) -- (S78);
\node[vtx] (S80) at (1531,80) {}; \draw[edge] (S80) -- (S79);
\node[vtx] (S81) at (1543,81) {}; \draw[edge] (S81) -- (S80);
\node[vtx] (S82) at (1549,82) {}; \draw[edge] (S82) -- (S81);
\node[vtx] (U83) at (1456,83) {}; \draw[edge] (U83) -- (S82);
\node[vtx] (U84) at (1456,84) {}; \draw[edge] (U84) -- (U83);
\node[vtx] (U85) at (1456,85) {}; \draw[edge] (U85) -- (U84);
\node[vtx] (U86) at (1456,86) {}; \draw[edge] (U86) -- (U85);
\node[vtx] (U87) at (1456,87) {}; \draw[edge] (U87) -- (U86);
\node[vtx] (Ua85) at (1364,85) {}; \draw[edge] (Ua85) -- (U84);
\node[vtx] (Ua86) at (1364,86) {}; \draw[edge] (Ua86) -- (Ua85);
\node[vtx] (Ua87) at (1364,87) {}; \draw[edge] (Ua87) -- (Ua86);
\node[vtx] (Ua88) at (1364,88) {}; \draw[edge] (Ua88) -- (Ua87);
\node[vtx] (Ua89) at (1364,89) {}; \draw[edge] (Ua89) -- (Ua88);
\node[vtx] (Ub87) at (1271,87) {}; \draw[edge] (Ub87) -- (Ua86);
\node[vtx] (Ub88) at (1271,88) {}; \draw[edge] (Ub88) -- (Ub87);
\node[vtx] (Ub89) at (1271,89) {}; \draw[edge] (Ub89) -- (Ub88);
\node[vtx] (V83) at (1549,83) {}; \draw[edge] (V83) -- (S82);
\node[vtx] (V84) at (1549,84) {}; \draw[edge] (V84) -- (V83);
\node[vtx] (V85) at (1549,85) {}; \draw[edge] (V85) -- (V84);
\node[vtx] (V86) at (1549,86) {}; \draw[edge] (V86) -- (V85);
\node[vtx] (Va86) at (1641,86) {}; \draw[edge] (Va86) -- (V85);
\node[vtx] (W83) at (1641,83) {}; \draw[edge] (W83) -- (S82);
\node[vtx] (X87) at (1549,87) {}; \draw[edge] (X87) -- (U86);
\node[vtx] (X88) at (1549,88) {}; \draw[edge] (X88) -- (X87);
\node[vtx] (Xa89) at (1505,89) {}; \draw[edge] (Xa89) -- (X88);
\node[vtx] (Xb89) at (1598,89) {}; \draw[edge] (Xb89) -- (X88);
\node[vtx] (Y90) at (1413,90) {}; \draw[edge] (Y90) -- (Xa89);
\node[vtx] (Y91) at (1407,91) {}; \draw[edge] (Y91) -- (Y90);
\node[vtx] (Y92) at (1361,92) {}; \draw[edge] (Y92) -- (Y91);
\node[vtx] (Y93) at (1361,93) {}; \draw[edge] (Y93) -- (Y92);
\node[vtx] (Y94) at (1361,94) {}; \draw[edge] (Y94) -- (Y93);
\node[vtx] (Y95) at (1361,95) {}; \draw[edge] (Y95) -- (Y94);
\node[vtx] (Y96) at (1361,96) {}; \draw[edge] (Y96) -- (Y95);
\node[vtx] (Y97) at (1361,97) {}; \draw[edge] (Y97) -- (Y96);
\node[vtx] (Y98) at (1361,98) {}; \draw[edge] (Y98) -- (Y97);
\node[vtx] (Ya99) at (1340,99) {}; \draw[edge] (Ya99) -- (Y98);
\node[vtx] (Ya100) at (1340,100) {}; \draw[edge] (Ya100) -- (Ya99);
\node[vtx] (Yb99) at (1433,99) {}; \draw[edge] (Yb99) -- (Y98);
\node[vtx] (Yb100) at (1433,100) {}; \draw[edge] (Yb100) -- (Yb99);
\node[vtx] (Yb101) at (1433,101) {}; \draw[edge] (Yb101) -- (Yb100);
\node[vtx] (Yc100) at (1525,100) {}; \draw[edge] (Yc100) -- (Yb99);
\node[vtx] (Z90) at (1529,90) {}; \draw[edge] (Z90) -- (Xa89);
\node[vtx] (Z91) at (1529,91) {}; \draw[edge] (Z91) -- (Z90);
\node[vtx] (Za92) at (1454,92) {}; \draw[edge] (Za92) -- (Z91);
\node[vtx] (Za93) at (1454,93) {}; \draw[edge] (Za93) -- (Za92);
\node[vtx] (Zb92) at (1546,92) {}; \draw[edge] (Zb92) -- (Z91);
\node[vtx] (Zb93) at (1546,93) {}; \draw[edge] (Zb93) -- (Zb92);
\node[vtx] (Zc91) at (1628,91) {}; \draw[edge] (Zc91) -- (Z90);
\node[vtx] (Zc92) at (1639,92) {}; \draw[edge] (Zc92) -- (Zc91);
\node[vtx] (Zc93) at (1639,93) {}; \draw[edge] (Zc93) -- (Zc92);
\node[vtx] (AA71) at (1456,71) {}; \draw[edge] (AA71) -- (H70);
\node[vtx] (AA72) at (1456,72) {}; \draw[edge] (AA72) -- (AA71);
\node[vtx] (AA73) at (1456,73) {}; \draw[edge] (AA73) -- (AA72);
\node[vtx] (AA74) at (1456,74) {}; \draw[edge] (AA74) -- (AA73);
\node[vtx] (AA75) at (1456,75) {}; \draw[edge] (AA75) -- (AA74);
\node[vtx] (AA76) at (1456,76) {}; \draw[edge] (AA76) -- (AA75);
\node[vtx] (AB72) at (1549,72) {}; \draw[edge] (AB72) -- (AA71);
\node[vtx] (AB73) at (1549,73) {}; \draw[edge] (AB73) -- (AB72);
\node[vtx] (AB74) at (1549,74) {}; \draw[edge] (AB74) -- (AB73);
\node[vtx] (AB75) at (1549,75) {}; \draw[edge] (AB75) -- (AB74);
\node[vtx] (AC75) at (1641,75) {}; \draw[edge] (AC75) -- (AB74);
\node[vtx] (AC76) at (1641,76) {}; \draw[edge] (AC76) -- (AC75);
\node[vtx] (AC77) at (1641,77) {}; \draw[edge] (AC77) -- (AC76);
\node[vtx] (AC78) at (1641,78) {}; \draw[edge] (AC78) -- (AC77);
\node[vtx] (AC79) at (1641,79) {}; \draw[edge] (AC79) -- (AC78);
\node[vtx] (AC80) at (1641,80) {}; \draw[edge] (AC80) -- (AC79);
\node[vtx] (AC81) at (1641,81) {}; \draw[edge] (AC81) -- (AC80);
\node[vtx] (AC82) at (1641,82) {}; \draw[edge] (AC82) -- (AC81);
\node[vtx] (AD80) at (1734,80) {}; \draw[edge] (AD80) -- (AC79);
\node[vtx] (AD81) at (1734,81) {}; \draw[edge] (AD81) -- (AC80);
\node[vtx] (AE71) at (1618,71) {}; \draw[edge] (AE71) -- (H70);
\node[vtx] (AE72) at (1688,72) {}; \draw[edge] (AE72) -- (AE71);
\node[vtx] (AE73) at (1710,73) {}; \draw[edge] (AE73) -- (AE72);
\node[vtx] (AE74) at (1734,74) {}; \draw[edge] (AE74) -- (AE73);
\node[vtx] (AE75) at (1734,75) {}; \draw[edge] (AE75) -- (AE74);
\node[vtx] (AF75) at (1826,75) {}; \draw[edge] (AF75) -- (AE74);
\node[vtx] (AF76) at (1826,76) {}; \draw[edge] (AF76) -- (AF75);
\node[vtx] (AF77) at (1826,77) {}; \draw[edge] (AF77) -- (AF76);

\end{scope}
\end{tikzpicture}
\end{document}
